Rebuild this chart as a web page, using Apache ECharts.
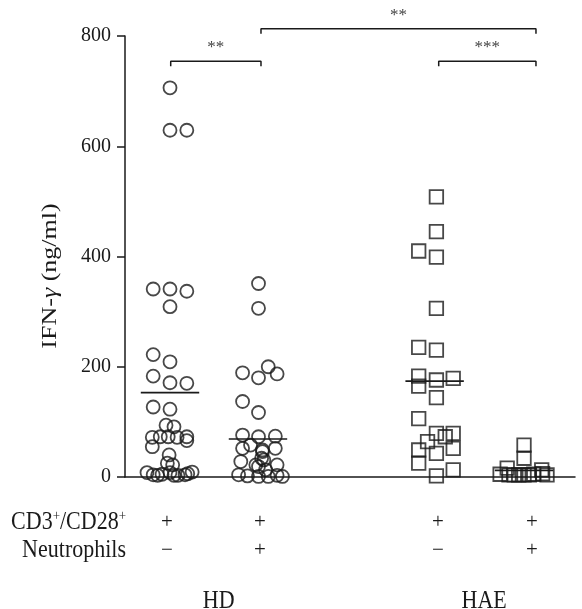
<!DOCTYPE html>
<html><head><meta charset="utf-8">
<script src="https://cdn.jsdelivr.net/npm/echarts@6/dist/echarts.min.js"></script>
<style>html,body{margin:0;padding:0;background:#fff}#c{width:582px;height:609px}</style>
</head><body><div id="c"></div>
<script>
// ---- data ----
var yTicks = [0, 200, 400, 600, 800];
var groupNames = ['HD', 'HAE'];
var groupNameX = [1.55, 4.55];
var columnX = [0.966, 2.017, 4.028, 5.09];
var cd3Row = ['+', '+', '+', '+'];
var neutRow = ['\u2212', '+', '\u2212', '+'];
var meanX = [1.0, 1.994, 3.99, 5.0];
var meanValues = [153, 69, 174, 12];

var hdNegX = [1.0,1.0,1.19,0.81,1.0,1.19,1.0,0.81,1.0,0.81,1.0,1.19,0.81,1.0,0.955,1.045,
  0.80,0.89,0.98,1.08,1.19,1.19,0.80,0.99,0.97,1.03,
  0.74,0.81,0.86,0.91,1.0,1.045,1.09,1.17,1.2,1.25];
var hdNegY = [706,629,629,341,341,337,309,222,209,183,171,170,127,123,94,91,
  72,73,73,72,73,66,55,40,25,22,
  8,4,3,5,8,3,3,4,6,9];

var hdPosX = [2.0,2.0,2.11,1.82,2.21,2.0,1.82,2.0,
  1.82,2.0,2.19,1.91,1.82,2.045,2.19,2.045,2.035,2.06,1.8,1.97,2.21,2.0,2.08,
  1.775,1.875,2.0,2.11,2.21,2.27];
var hdPosY = [351,306,200,189,187,180,137,117,
  76,73,74,58,52,49,52,46,34,31,28,22,22,19,13,
  4,2,1,1,3,1];

var haeNegX = [4.01,4.01,3.81,4.01,4.01,3.81,4.01,3.81,4.01,4.2,3.81,4.01,3.81,4.01,4.11,4.2,3.91,3.81,4.01,4.2,3.81,4.01,4.2];
var haeNegY = [508,445,410,399,306,235,230,183,176,179,165,144,106,79,73,79,64,49,43,52,25,2,13];

var haePosX = [5.0,5.0,4.81,5.2,4.73,4.83,4.89,4.94,5.0,5.06,5.11,5.21,5.26];
var haePosY = [58,34,16,13,5,4,4,4,4,4,5,6,4];

// significance brackets: [x1, x2, level, label]
var brackets = [
  [1.008, 2.028, 754, '**'],
  [2.028, 5.135, 813, '**'],
  [4.036, 5.135, 754, '***']
];

// ---- build ----
function zip(xs, ys){ return xs.map(function(x,i){ return [x, ys[i]]; }); }
var FONT = '"Liberation Serif", "DejaVu Serif", serif';
var INK = '#1a1a1a';

var series = [];
function scatter(xs, ys, sym, size){
  series.push({type:'scatter', data: zip(xs, ys), symbol: sym, symbolSize: size,
    itemStyle:{color:'rgba(0,0,0,0)', borderColor: INK, borderWidth: 1.8}, silent:true, z:3});
}
scatter(hdNegX, hdNegY, 'circle', 13);
scatter(hdPosX, hdPosY, 'circle', 13);
scatter(haeNegX, haeNegY, 'rect', 13.5);
scatter(haePosX, haePosY, 'rect', 13.5);

meanX.forEach(function(x, i){
  series.push({type:'line', data:[[x-0.33, meanValues[i]],[x+0.33, meanValues[i]]], symbol:'none',
    lineStyle:{color: INK, width:1.6}, silent:true, z:4});
});
var tickDrop = 9;
brackets.forEach(function(b){
  series.push({type:'line', clip:false, data:[[b[0], b[2]-tickDrop],[b[0], b[2]],[b[1], b[2]],[b[1], b[2]-tickDrop]],
    symbol:'none', lineStyle:{color: INK, width:1.5}, silent:true});
});

var chart = echarts.init(document.getElementById('c'), null, {renderer:'canvas'});
chart.setOption({
  animation:false,
  backgroundColor:'#fff',
  grid:{left:125, right:7, top:36, bottom:132, containLabel:false},
  xAxis:{type:'value', min:0.4915, max:5.576, axisLine:{show:true, lineStyle:{color:INK, width:1.5}},
    axisTick:{show:false}, axisLabel:{show:false}, splitLine:{show:false}},
  yAxis:{type:'value', min:yTicks[0], max:yTicks[yTicks.length-1], interval:200,
    axisLine:{show:true, lineStyle:{color:INK, width:1.5}},
    axisTick:{show:true, length:8, inside:false, lineStyle:{color:INK, width:1.5}},
    axisLabel:{color:INK, fontFamily:FONT, fontSize:20, margin:14},
    splitLine:{show:false}},
  series: series
});

var g = [];
function px(x, y){ return chart.convertToPixel({xAxisIndex:0, yAxisIndex:0}, [x, y]); }
brackets.forEach(function(b){
  var p = px((b[0]+b[1])/2, b[2]);
  g.push({type:'text', x:p[0], y:p[1]-5, style:{text:b[3], fill:'#444', font:'17px '+FONT, align:'center', verticalAlign:'bottom'}});
});
var rowY1 = 522, rowY2 = 550, rowY3 = 601;
var SY = 1.15;
g.push({type:'text', x:126, y:rowY1, scaleY:SY, originY:0,
  style:{text:'{n|CD3}{s|+}{n|/CD28}{s|+}', align:'right', verticalAlign:'middle',
    rich:{n:{fontFamily:FONT, fontSize:22, fill:INK, lineHeight:24}, s:{fontFamily:FONT, fontSize:13, fill:INK, lineHeight:24, verticalAlign:'top', padding:[0,0,12,0]}}}});
g.push({type:'text', x:126, y:rowY2, scaleY:SY, style:{text:'Neutrophils', fill:INK, font:'22px '+FONT, align:'right', verticalAlign:'middle'}});
columnX.forEach(function(x, i){
  var p = px(x, 0);
  g.push({type:'text', x:p[0], y:rowY1, style:{text:cd3Row[i], fill:INK, font:'21px '+FONT, align:'center', verticalAlign:'middle'}});
  g.push({type:'text', x:p[0], y:rowY2, style:{text:neutRow[i], fill:INK, font:'21px '+FONT, align:'center', verticalAlign:'middle'}});
});
groupNames.forEach(function(n, i){
  var p = px(groupNameX[i], 0);
  g.push({type:'text', x:p[0], y:rowY3, scaleY:SY, style:{text:n, fill:INK, font:'22px '+FONT, align:'center', verticalAlign:'middle'}});
});
g.push({type:'text', x:51, y:276, rotation:Math.PI/2, scaleX:1.3,
  style:{text:'{a|IFN-}{b|\u03B3}{a| (ng/ml)}', align:'center', verticalAlign:'middle',
    rich:{a:{fontFamily:FONT, fontSize:20, fill:INK}, b:{fontFamily:FONT, fontSize:20, fontStyle:'italic', fill:INK}}}});
chart.setOption({graphic:g});
</script></body></html>
